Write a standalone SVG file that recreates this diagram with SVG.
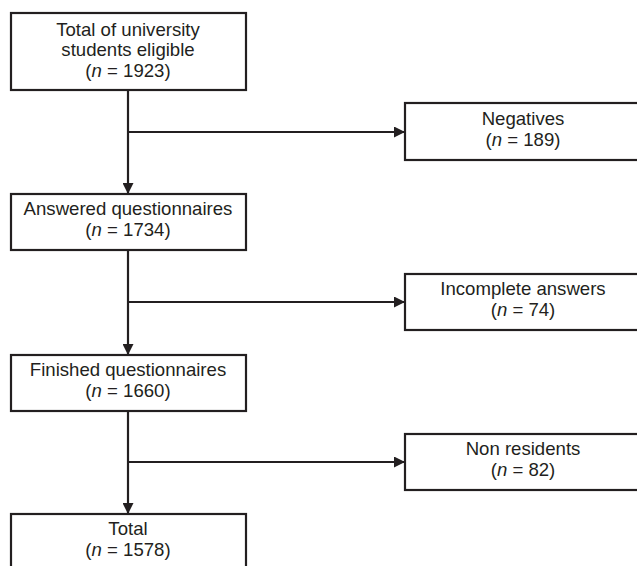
<svg xmlns="http://www.w3.org/2000/svg" width="637" height="566" viewBox="0 0 637 566">
<style>
.box{fill:#fff;stroke:#231f20;stroke-width:2.2}
.t{font-family:"Liberation Sans",Arial,sans-serif;font-size:18.6px;fill:#231f20;text-anchor:middle}
.c{fill:none;stroke:#231f20;stroke-width:2.2}
</style>
<defs>
<marker id="ah" viewBox="0 0 10 10" refX="10" refY="5" markerWidth="11" markerHeight="11" markerUnits="userSpaceOnUse" orient="auto">
<path d="M0,0 L10,5 L0,10 Z" fill="#231f20"/>
</marker>
</defs>
<rect width="637" height="566" fill="#fff"/>
<g id="connectors">
<path class="c" d="M128,90 V194" marker-end="url(#ah)"/>
<path class="c" d="M128,132 H405" marker-end="url(#ah)"/>
<path class="c" d="M128,250 V355" marker-end="url(#ah)"/>
<path class="c" d="M128,302 H405" marker-end="url(#ah)"/>
<path class="c" d="M128,411 V514" marker-end="url(#ah)"/>
<path class="c" d="M128,462 H405" marker-end="url(#ah)"/>
</g>
<g id="n1">
<rect class="box" x="11" y="13" width="235" height="77"/>
<text class="t" x="128" y="36">Total of university</text>
<text class="t" x="128" y="56">students eligible</text>
<text class="t" x="128" y="77">(<tspan font-style="italic">n</tspan> = 1923)</text>
</g>
<g id="n2">
<rect class="box" x="405" y="103" width="236" height="57"/>
<text class="t" x="523" y="125">Negatives</text>
<text class="t" x="523" y="146">(<tspan font-style="italic">n</tspan> = 189)</text>
</g>
<g id="n3">
<rect class="box" x="11" y="194" width="235" height="56"/>
<text class="t" x="128" y="215">Answered questionnaires</text>
<text class="t" x="128" y="236">(<tspan font-style="italic">n</tspan> = 1734)</text>
</g>
<g id="n4">
<rect class="box" x="405" y="274" width="236" height="56"/>
<text class="t" x="523" y="295">Incomplete answers</text>
<text class="t" x="523" y="316">(<tspan font-style="italic">n</tspan> = 74)</text>
</g>
<g id="n5">
<rect class="box" x="11" y="355" width="235" height="56"/>
<text class="t" x="128" y="376">Finished questionnaires</text>
<text class="t" x="128" y="397">(<tspan font-style="italic">n</tspan> = 1660)</text>
</g>
<g id="n6">
<rect class="box" x="405" y="434" width="236" height="56"/>
<text class="t" x="523" y="455">Non residents</text>
<text class="t" x="523" y="476">(<tspan font-style="italic">n</tspan> = 82)</text>
</g>
<g id="n7">
<rect class="box" x="11" y="514" width="235" height="60"/>
<text class="t" x="128" y="535">Total</text>
<text class="t" x="128" y="556">(<tspan font-style="italic">n</tspan> = 1578)</text>
</g>
</svg>
